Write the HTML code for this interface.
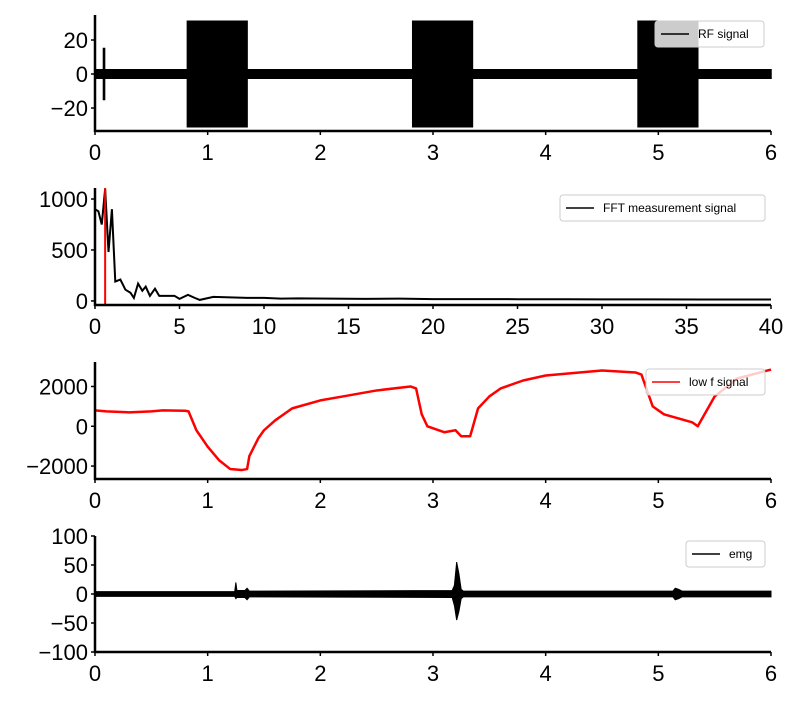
<!DOCTYPE html>
<html><head><meta charset="utf-8"><style>
body{margin:0;background:#fff}
svg{font-family:"Liberation Sans",Arial,sans-serif}
</style></head><body>
<svg id="c" width="800" height="700" viewBox="0 0 800 700"></svg>
<script>
// ---------- data ----------
const rfEnvT = [0,0.075,0.075,0.085,0.085,0.82,0.82,1.35,1.35,2.82,2.82,3.35,3.35,4.82,4.82,5.35,5.35,6];
const rfEnvA = [2.5,2.5,15,15,2.5,2.5,31,31,2.5,2.5,31,31,2.5,2.5,31,31,2.5,2.5];
const fftF = [0,0.2,0.4,0.6,0.8,1.0,1.2,1.5,1.8,2.1,2.3,2.55,2.8,3.0,3.25,3.55,3.8,4.3,4.7,5.0,5.5,5.9,6.2,7,8,9,10,11,12,14,16,18,20,22,25,28,30,33,36,40];
const fftV = [900,880,750,1100,480,900,190,210,110,80,30,170,100,140,50,120,50,50,50,20,60,30,10,40,35,30,30,22,25,22,20,22,18,18,17,16,15,15,14,14];
const fftMark = 0.6;
const lowT = [0,0.1,0.3,0.5,0.6,0.8,0.83,0.9,1.0,1.1,1.2,1.3,1.35,1.37,1.45,1.5,1.6,1.75,2.0,2.2,2.5,2.8,2.85,2.9,2.95,3.1,3.2,3.25,3.33,3.4,3.5,3.6,3.8,4.0,4.2,4.5,4.8,4.85,4.95,5.05,5.3,5.35,5.45,5.5,5.7,6.0];
const lowV = [800,750,700,750,800,780,750,-200,-1025,-1700,-2150,-2200,-2150,-1500,-600,-200,300,900,1300,1500,1800,2000,1900,600,0,-300,-200,-500,-500,900,1500,1900,2300,2550,2650,2800,2700,2600,1000,600,200,0,1000,1500,2400,2850];
const emgT = [0,1.24,1.25,1.26,1.33,1.35,1.37,3.17,3.19,3.21,3.23,3.25,3.27,5.13,5.15,5.18,5.21,6];
const emgHi = [4,4,20,6,6,10,5,6,15,55,35,8,5,5,10,8,5,5];
const emgLo = [-4,-4,-8,-6,-6,-10,-5,-6,-20,-45,-30,-8,-5,-5,-10,-8,-5,-5];
const ticks1y=[-20,0,20], ticks2y=[0,500,1000], ticks3y=[-2000,0,2000], ticks4y=[-100,-50,0,50,100];
const ticksT=[0,1,2,3,4,5,6], ticksF=[0,5,10,15,20,25,30,35,40];
// ---------- drawing ----------
const svg=document.getElementById('c');const NS='http://www.w3.org/2000/svg';
function el(t,a,p){const e=document.createElementNS(NS,t);for(const k in a)e.setAttribute(k,a[k]);(p||svg).appendChild(e);return e;}
const L=95,R=771;
function panel(name,top,bot,x0,x1,y0,y1,xt,yt){
  const g=el('g',{});
  
  
  const sx=v=>L+(v-x0)/(x1-x0)*(R-L), sy=v=>bot-(v-y0)/(y1-y0)*(bot-top);
  for(const t of xt){el('line',{x1:sx(t),x2:sx(t),y1:bot,y2:bot+4,stroke:'#000','stroke-width':1.5},g);
    const tx=el('text',{x:sx(t),y:bot+29,'font-size':22,'text-anchor':'middle'},g);tx.textContent=t;
    }
  for(const t of yt){el('line',{x1:L-4,x2:L,y1:sy(t),y2:sy(t),stroke:'#000','stroke-width':1.5},g);
    const tx=el('text',{x:L-7,y:sy(t)+8,'font-size':22,'text-anchor':'end'},g);tx.textContent=(t<0?'\u2212'+(-t):t);
    }
  return {g,sx,sy,top,bot};
}
function axes(p){el('line',{x1:L,x2:L,y1:p.top,y2:p.bot+1,stroke:'#000','stroke-width':2.5},p.g);el('line',{x1:L-1,x2:R,y1:p.bot,y2:p.bot,stroke:'#000','stroke-width':2.5},p.g);}
function legend(p,x,y,w,label,color){
  const lg=el('g',{},p.g);
  
  
  el('rect',{x:x,y:y,width:w,height:26,rx:3,fill:'rgba(255,255,255,0.8)',stroke:'#ccc'},lg);
  el('line',{x1:x+6,x2:x+34,y1:y+13,y2:y+13,stroke:color,'stroke-width':1.5},lg);
  const t=el('text',{x:x+43,y:y+17,'font-size':12},lg);t.textContent=label;
}
// panel 1
const p1=panel('rf-signal-panel',15,131,0,6,-33.5,34.7,ticksT,ticks1y);
let d='';rfEnvT.forEach((t,i)=>d+=(i?'L':'M')+p1.sx(t)+' '+p1.sy(rfEnvA[i]));
for(let i=rfEnvT.length-1;i>=0;i--)d+='L'+p1.sx(rfEnvT[i])+' '+p1.sy(-rfEnvA[i]);
const rf=el('path',{d:d+'Z',fill:'#000',stroke:'#000','stroke-width':1.5},p1.g);

axes(p1);legend(p1,655,21,109,'RF signal','#000');
// panel 2
const p2=panel('fft-panel',188,305,0,40,-40,1108,ticksF,ticks2y);
const ff=el('polyline',{points:fftF.map((f,i)=>p2.sx(f)+','+p2.sy(fftV[i])).join(' '),fill:'none',stroke:'#000','stroke-width':2},p2.g);

const rl=el('line',{x1:p2.sx(fftMark),x2:p2.sx(fftMark),y1:188,y2:305,stroke:'red','stroke-width':2},p2.g);

axes(p2);legend(p2,560,195,205,'FFT measurement signal','#000');
// panel 3
const p3=panel('low-f-panel',362,479,0,6,-2650,3230,ticksT,ticks3y);
const lf=el('polyline',{points:lowT.map((t,i)=>p3.sx(t)+','+p3.sy(lowV[i])).join(' '),fill:'none',stroke:'red','stroke-width':2.5,'stroke-linejoin':'round'},p3.g);

axes(p3);legend(p3,646,369,119,'low f signal','red');
// panel 4
const p4=panel('emg-panel',536,652,0,6,-100,100,ticksT,ticks4y);
d='';emgT.forEach((t,i)=>d+=(i?'L':'M')+p4.sx(t)+' '+p4.sy(emgHi[i]));
for(let i=emgT.length-1;i>=0;i--)d+='L'+p4.sx(emgT[i])+' '+p4.sy(emgLo[i]);
const em=el('path',{d:d+'Z',fill:'#000',stroke:'#000','stroke-width':1},p4.g);

axes(p4);legend(p4,686,541,79,'emg','#000');
</script>
</body></html>
